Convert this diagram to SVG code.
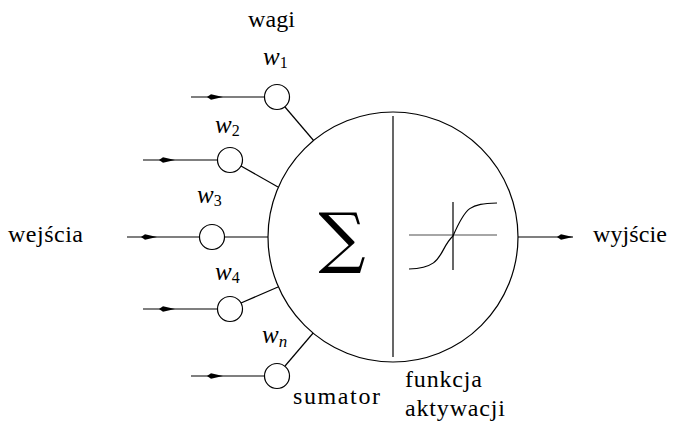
<svg xmlns="http://www.w3.org/2000/svg" width="674" height="423" viewBox="0 0 674 423">
<defs>
<style>
.ln{stroke:#000;stroke-width:1.2;fill:none}
.c{stroke:#000;stroke-width:1.2;fill:#fff}
text{fill:#000;font-family:"Liberation Serif","Times New Roman",serif}
.t{font-size:24px}
.i{font-style:italic;font-size:25px}
.s{font-size:16px;font-style:normal}
.sn{font-size:17px}
</style>
<marker id="ah" viewBox="0 0 16 8" refX="8" refY="4" markerWidth="16" markerHeight="8" markerUnits="userSpaceOnUse" orient="auto">
<path d="M0,4 L4,1.2 L16,4 L4,6.8 Z" fill="#000"/>
</marker>
</defs>
<g id="connectors">
<path class="ln" d="M191,97 L215,97 L264,97" marker-mid="url(#ah)"/>
<path class="ln" d="M143,160 L167,160 L217,160" marker-mid="url(#ah)"/>
<path class="ln" d="M127,237 L149,237 L199,237" marker-mid="url(#ah)"/>
<path class="ln" d="M143,309 L167,309 L217,309" marker-mid="url(#ah)"/>
<path class="ln" d="M191,376 L215,376 L264,376" marker-mid="url(#ah)"/>
<line class="ln" x1="285" y1="107" x2="314" y2="141"/>
<line class="ln" x1="241" y1="166" x2="278" y2="187"/>
<line class="ln" x1="225" y1="237" x2="268" y2="237"/>
<line class="ln" x1="241" y1="303" x2="278" y2="287"/>
<line class="ln" x1="285" y1="366" x2="314" y2="332"/>
<path class="ln" d="M518,237 L565,237 L573,237" marker-mid="url(#ah)"/>
</g>
<g id="neuron">
<circle class="c" cx="393" cy="237" r="125"/>
<line class="ln" x1="393" y1="116" x2="393" y2="357"/>
<text x="342" y="260" text-anchor="middle" font-size="66" style="font-family:'DejaVu Serif',serif">∑</text>
<line x1="409" y1="235" x2="497" y2="235" stroke="#888" stroke-width="1.5"/>
<line class="ln" x1="453" y1="202" x2="453" y2="270"/>
<path class="ln" d="M409,269 C445,268 438,250 453,236 C466,206 470,204 497,203"/>
</g>
<g id="w1"><circle class="c" cx="277" cy="97" r="12.5"/></g>
<g id="w2"><circle class="c" cx="230" cy="160" r="12.5"/></g>
<g id="w3"><circle class="c" cx="212" cy="237" r="12.5"/></g>
<g id="w4"><circle class="c" cx="230" cy="309" r="12.5"/></g>
<g id="wn"><circle class="c" cx="277" cy="376" r="12.5"/></g>
<g id="labels">
<text class="t" x="248" y="27" textLength="47" lengthAdjust="spacing">wagi</text>
<text class="i" x="263" y="65">w<tspan class="s" dy="3">1</tspan></text>
<text class="i" x="215" y="133">w<tspan class="s" dy="3">2</tspan></text>
<text class="i" x="197" y="203">w<tspan class="s" dy="3">3</tspan></text>
<text class="i" x="215" y="280">w<tspan class="s" dy="3">4</tspan></text>
<text class="i" x="262" y="343">w<tspan class="sn" dy="4">n</tspan></text>
<text class="t" x="8" y="242" textLength="75" lengthAdjust="spacing">wejścia</text>
<text class="t" x="593" y="242" textLength="74" lengthAdjust="spacing">wyjście</text>
<text class="t" x="293" y="404" textLength="87" lengthAdjust="spacing">sumator</text>
<text class="t" x="405" y="387" textLength="77" lengthAdjust="spacing">funkcja</text>
<text class="t" x="405" y="416" textLength="100" lengthAdjust="spacing">aktywacji</text>
</g>
</svg>
